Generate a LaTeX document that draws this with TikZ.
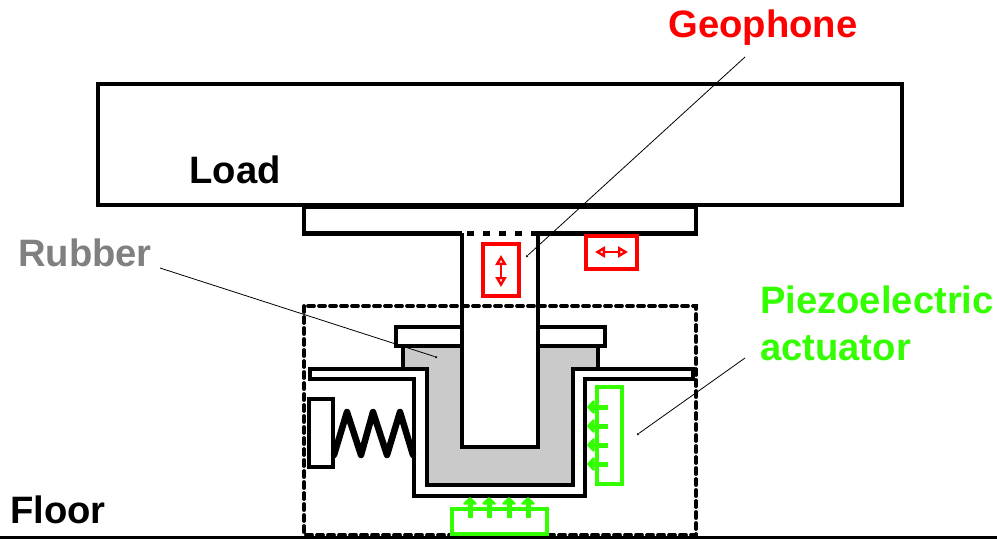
\documentclass[tikz,border=0pt]{standalone}
\usepackage{fontspec}
\setmainfont{Liberation Sans}
\usetikzlibrary{arrows.meta}
\definecolor{pzgreen}{HTML}{33FF00}
\definecolor{rubbergrey}{HTML}{CACACA}
\tikzset{
  wall/.style={draw=black,line width=4.5pt,line join=miter},
  thinwall/.style={draw=black,line width=4pt},
  sensor/.style={draw=red,line width=4.5pt},
  sensorarrow/.style={draw=red,line width=1.2pt,{Triangle[open,length=10pt,width=11pt,line width=2.4pt]}-{Triangle[open,length=10pt,width=11pt,line width=2.4pt]}},
  actuator/.style={draw=pzgreen,line width=4pt},
  pzarrow/.style={draw=pzgreen,line width=5pt,-{Triangle[length=8pt,width=16pt,round]}},
  leader/.style={draw=black,line width=0.8pt},
  lbl/.style={font=\fontsize{38.2}{47}\selectfont\bfseries,inner sep=0pt,anchor=base},
  tip/.style={circle,fill=black,inner sep=0pt,minimum size=2.5pt}
}
\begin{document}
\begin{tikzpicture}[x=1pt,y=-1pt]
\useasboundingbox (0,0) rectangle (997,539);
% load and plate
\draw[wall] (98,84) rectangle (902,205);
\draw[wall] (304,207) -- (696,207);
\draw[wall] (304,205) -- (304,233.5) -- (462,233.5);
\draw[wall] (538,233.5) -- (696,233.5) -- (696,205);
\draw[draw=black,line width=4.5pt,dash pattern=on 7pt off 9pt] (467,233.5) -- (538,233.5);
% rubber
\fill[rubbergrey] (403,346) -- (598,346) -- (598,369) -- (573,369) -- (573,485) -- (427,485) -- (427,369) -- (403,369) -- cycle;
\fill[white] (462,346) rectangle (538,447);
% outer housing
\draw[thinwall] (403,346) -- (403,369) -- (310,369) -- (310,379) -- (414,379) -- (414,496) -- (585,496) -- (585,379) -- (693,379) -- (693,369) -- (573,369) -- (573,485) -- (427,485) -- (427,369) -- (403,369);
\draw[thinwall] (598,346) -- (598,369);
% flange
\draw[thinwall] (462,346) -- (396,346) -- (396,327) -- (462,327);
\draw[thinwall] (538,346) -- (605,346) -- (605,327) -- (538,327);
% column
\draw[wall] (462,233) -- (462,447) -- (538,447) -- (538,233);
% dashed enclosure
\draw[draw=black,line width=3.8pt,dash pattern=on 6pt off 5pt,line cap=round] (304,306) rectangle (696,535);
% floor
\draw[draw=black,line width=2.5pt] (0,537.5) -- (997,537.5);
% spring
\draw[draw=black,line width=4pt] (309,399) rectangle (333,467);
\draw[draw=black,line width=6.5pt,line join=round,line cap=round] (334,455) -- (347,412) -- (361,455) -- (373,412) -- (387,455) -- (400,412) -- (413,455);
% geophones
\draw[sensor] (483,244) rectangle (519,296);
\draw[sensorarrow] (501,255) -- (501,287);
\draw[sensor] (586,236) rectangle (637,269);
\draw[sensorarrow] (595,252) -- (628,252);
% actuators
\draw[actuator] (597,387) rectangle (622,484);
\foreach \yy in {407,426,445,464} \draw[pzarrow] (608,\yy) -- (587,\yy);
\draw[actuator] (452,509) rectangle (547,534);
\foreach \xx in {470,489,509,528} \draw[pzarrow] (\xx,518) -- (\xx,497);
% labels
\node[lbl] (load) at (235,183) {Load};
\node[lbl] (floor) at (58,523) {Floor};
\node[lbl,text=red] (geo) at (763,37) {Geophone};
\node[lbl,text=black!50] (rub) at (85,266) {Rubber};
\node[lbl,text=pzgreen,align=left,anchor=north west] (piezo) at (760,285.5) {Piezoelectric\\actuator};
% leaders
\node[tip] (geotip) at (527,256) {};
\node[tip] (rubtip) at (436,357) {};
\node[tip] (piezotip) at (638,434) {};
\coordinate (geostart) at (745,57);
\coordinate (rubstart) at (160,268);
\coordinate (piezostart) at (745,358);
\draw[leader] (geostart) -- (geotip);
\draw[leader] (rubstart) -- (rubtip);
\draw[leader] (piezostart) -- (piezotip);
\end{tikzpicture}
\end{document}
